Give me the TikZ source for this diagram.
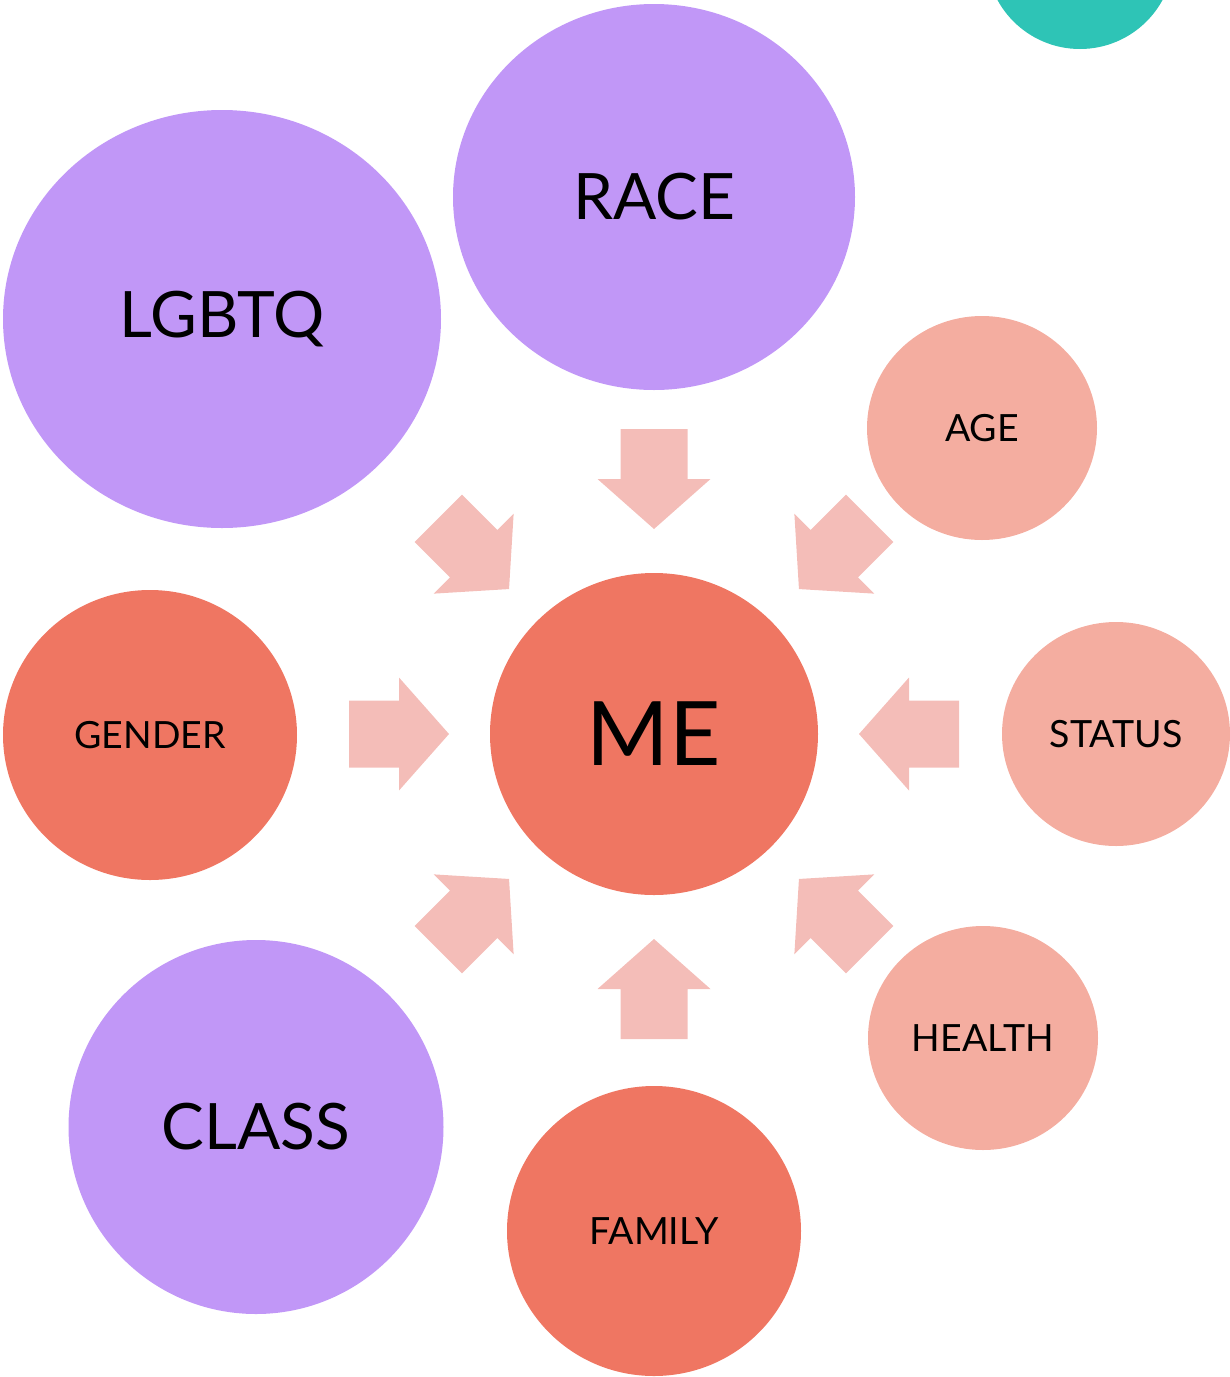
\documentclass[tikz,border=0pt]{standalone}
\usepackage{fontspec}
\setmainfont{Lato}
\usetikzlibrary{shapes.geometric}

\definecolor{lilac}{HTML}{C197F7}
\definecolor{coral}{HTML}{EF7662}
\definecolor{salmon}{HTML}{F4ADA0}
\definecolor{blush}{HTML}{F4BDB8}
\definecolor{teal}{HTML}{2EC4B6}

\tikzset{
  bubble/.style={ellipse, inner sep=0pt, text=black},
  bigtext/.style={font=\fontsize{64}{70}\selectfont},
  smalltext/.style={font=\fontsize{37.5}{42}\selectfont},
}

\begin{document}
\begin{tikzpicture}[x=1pt, y=-1pt]
  \useasboundingbox (0,0) rectangle (1230,1377);

  \node[bubble, fill=teal, minimum width=188pt, minimum height=188pt] (dot) at (1080,-45) {};

  \node[bubble, fill=coral, minimum width=328pt, minimum height=322pt,
        font=\fontsize{89}{96}\selectfont] (me) at (654,734) {ME};

  % arrows pointing in to the centre
  \foreach \a in {0, 45, ..., 315} {
    \fill[blush, shift={(me.center)}, rotate=\a]
      (305,33.5) -- (255,33.5) -- (255,56.5) -- (205,0)
      -- (255,-56.5) -- (255,-33.5) -- (305,-33.5) -- cycle;
  };

  \node[bubble, fill=lilac, bigtext, minimum width=438pt, minimum height=418pt] (lgbtq) at (222,319) {LGBTQ};
  \node[bubble, fill=lilac, bigtext, minimum width=402pt, minimum height=386pt] (race) at (654,197) {RACE};
  \node[bubble, fill=lilac, bigtext, minimum width=375pt, minimum height=374pt] (class) at (256,1127) {CLASS};

  \node[bubble, fill=coral, smalltext, minimum width=294pt, minimum height=290pt] (gender) at (150,735) {GENDER};
  \node[bubble, fill=coral, smalltext, minimum width=294pt, minimum height=290pt] (family) at (654,1231) {FAMILY};

  \node[bubble, fill=salmon, smalltext, minimum width=230pt, minimum height=224pt] (age) at (982,428) {AGE};
  \node[bubble, fill=salmon, smalltext, minimum width=228pt, minimum height=224pt] (status) at (1116,734) {STATUS};
  \node[bubble, fill=salmon, smalltext, minimum width=230pt, minimum height=224pt] (health) at (983,1038) {HEALTH};
\end{tikzpicture}
\end{document}
